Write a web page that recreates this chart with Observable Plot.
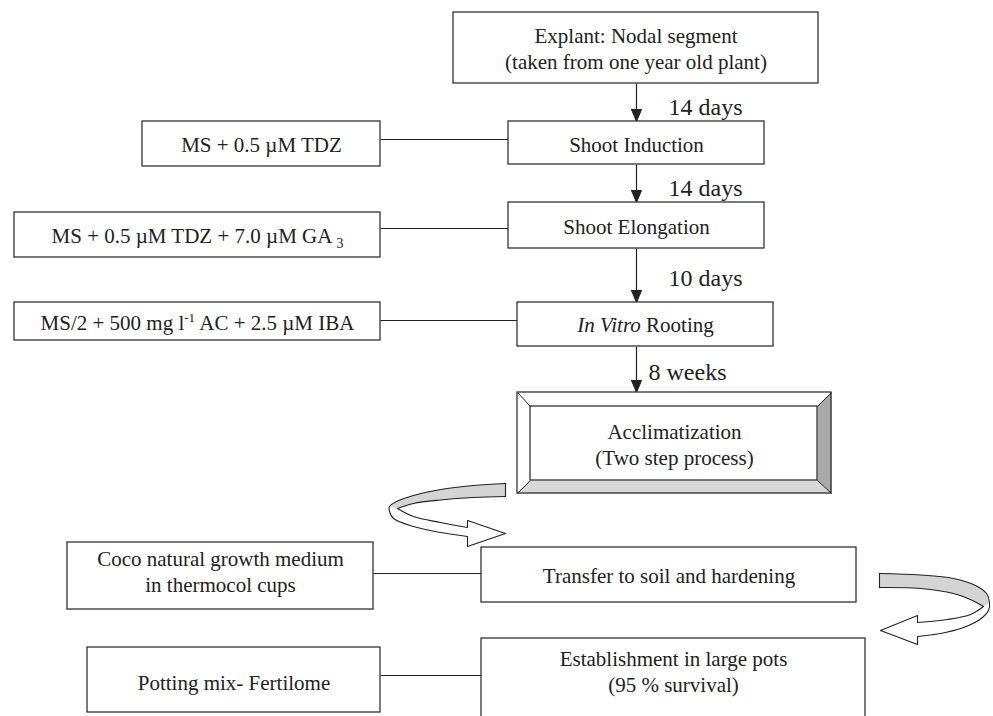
<!DOCTYPE html>
<html>
<head>
<meta charset="utf-8">
<script src="https://cdn.jsdelivr.net/npm/d3@7"></script>
<script src="https://cdn.jsdelivr.net/npm/@observablehq/plot@0.6"></script>
<style>
  html, body { margin: 0; padding: 0; background: white; overflow: hidden; }
</style>
</head>
<body>
<div id="chart"></div>
<script>
// ---- content (text) ----
const stages = [
  "Explant: Nodal segment\n(taken from one year old plant)",
  "Shoot Induction",
  "Shoot Elongation",
  "In Vitro Rooting",
  "Acclimatization\n(Two step process)",
  "Transfer to soil and hardening",
  "Establishment in large pots\n(95 % survival)"
];
const media = [
  "MS + 0.5 µM TDZ",
  "MS + 0.5 µM TDZ + 7.0 µM GA 3",
  "MS/2 + 500 mg l-1 AC + 2.5 µM IBA",
  "Coco natural growth medium\nin thermocol cups",
  "Potting mix- Fertilome"
];
const durations = ["14 days", "14 days", "10 days", "8 weeks"];

// ---- layout (pixel positions of the diagram) ----
const stageBoxes = [[453, 818, 12, 83], [508, 764, 121, 164], [508, 764, 202, 248], [517, 773, 302, 346], [517, 831, 392, 493], [481, 856, 547, 602], [481, 865, 638, 730]];
const stageTextY = [47.5, 143, 225, 323, 443.5, 574, 670.5];
const mediaBoxes = [[142, 380, 121, 166], [14, 380, 212, 257], [14, 380, 302, 340], [67, 373, 542, 609], [87, 380, 647, 712]];
const mediaTextY = [143, 234, 321, 570.5, 681];
const connectors = [[380, 508, 139], [380, 508, 228], [380, 517, 320], [373, 481, 573], [380, 481, 675]];
const arrowX = 636;
const arrowsY = [[83, 121], [164, 202], [248, 302], [346, 392]];
const durationX = [668, 668, 668, 648];
const durationY = [107, 188, 278, 372];
const bevelInner = [530, 817, 406, 480];

// curved ribbon arrows
const outerA = [[505,483],[473,485],[440,489],[413,495],[396,501],[389,506],[389,511],[393,518],[413,526],[440,532],[467,536]];
const innerGrayA = [[505,496],[473,497],[440,499.5],[413,503],[397,508]];
const innerWhiteA = [[397,508],[413,516],[440,522],[467,527]];
const headA = [[467,527],[467,520],[505,533],[467,546],[467,536]];
const outerB = [[879,573],[920,574.5],[953,578],[975,585],[986,593],[989,602],[988,610],[982,617],[968,625],[945,632],[917,636]];
const innerGrayB = [[879,587],[920,588],[953,593],[972,600],[983,606]];
const innerWhiteB = [[983,606],[970,614],[947,619],[917,622]];
const headB = [[917,622],[917,615],[880,630],[917,644],[917,636]];

const INK = "#222";
const FONT = "Liberation Serif, Times New Roman, serif";
const SW = 1.2;

// derived helpers
const grayA = outerA.slice(0, 6).concat(innerGrayA.slice().reverse());
const grayB = outerB.slice(0, 6).concat(innerGrayB.slice().reverse());
const whiteA = outerA.slice(5).concat(innerWhiteA.slice().reverse());
const whiteB = outerB.slice(5).concat(innerWhiteB.slice().reverse());
const headPts = arrowsY.flatMap(([y1, y2], i) => [[arrowX - 5, y2 - 12], [arrowX + 5, y2 - 12], [arrowX, y2], [arrowX - 5, y2 - 12]].map(p => ({id: i, x: p[0], y: p[1]})));
const [ox1, ox2, oy1, oy2] = stageBoxes[4];
const [ix1, ix2, iy1, iy2] = bevelInner;
const bevelRight = [[ox2, oy1], [ix2, iy1], [ix2, iy2], [ox2, oy2]];
const bevelBottom = [[ox1, oy2], [ix1, iy2], [ix2, iy2], [ox2, oy2]];
const bevelDiag = [[ox1, oy1, ix1, iy1], [ox2, oy1, ix2, iy1], [ox1, oy2, ix1, iy2], [ox2, oy2, ix2, iy2]];
const plainBoxes = stageBoxes.filter((d, i) => i !== 4);

const px = d => d[0], py = d => d[1];
const poly = (pts, opts) => Plot.line(pts, {x: px, y: py, ...opts});
const box = (data, opts) => Plot.rect(data, {x1: d => d[0], x2: d => d[1], y1: d => d[2], y2: d => d[3], stroke: INK, strokeWidth: SW, ...opts});

const svg = Plot.plot({
  width: 993,
  height: 716,
  margin: 0,
  x: {domain: [0, 993], range: [0, 993], axis: null},
  y: {domain: [0, 716], range: [0, 716], axis: null},
  style: {background: "white", fontFamily: FONT, overflow: "hidden"},
  marks: [
    // connectors
    Plot.link(connectors, {x1: d => d[0], x2: d => d[1], y1: d => d[2], y2: d => d[2], stroke: INK, strokeWidth: SW}),
    // vertical arrows
    Plot.link(arrowsY, {x1: arrowX, x2: arrowX, y1: d => d[0], y2: d => d[1] - 10, stroke: INK, strokeWidth: SW}),
    Plot.line(headPts, {x: "x", y: "y", z: "id", fill: INK, stroke: INK, strokeWidth: 1}),
    // boxes
    box(plainBoxes, {fill: "white"}),
    box(mediaBoxes, {fill: "white"}),
    // bevelled acclimatization box
    box([stageBoxes[4]], {fill: "white", stroke: "none"}),
    poly(bevelRight, {fill: "#a9a9a9", stroke: "none"}),
    poly(bevelBottom, {fill: "#d8d8d8", stroke: "none"}),
    box([stageBoxes[4]], {fill: "none"}),
    box([bevelInner], {fill: "white"}),
    Plot.link(bevelDiag, {x1: d => d[0], y1: d => d[1], x2: d => d[2], y2: d => d[3], stroke: INK, strokeWidth: 1}),
    // ribbon arrow A
    poly(grayA, {fill: "#d4d4d4", stroke: "none", curve: "catmull-rom"}),
    poly(whiteA, {fill: "white", stroke: "none", curve: "catmull-rom"}),
    poly(headA, {fill: "white", stroke: "none"}),
    poly(outerA, {stroke: INK, strokeWidth: 1.1, curve: "catmull-rom"}),
    poly(innerGrayA, {stroke: INK, strokeWidth: 1.1, curve: "catmull-rom"}),
    poly(innerWhiteA, {stroke: INK, strokeWidth: 1.1, curve: "catmull-rom"}),
    poly(headA, {stroke: INK, strokeWidth: 1.1}),
    poly([outerA[0], innerGrayA[0]], {stroke: INK, strokeWidth: 1.1}),
    // ribbon arrow B
    poly(grayB, {fill: "#d4d4d4", stroke: "none", curve: "catmull-rom"}),
    poly(whiteB, {fill: "white", stroke: "none", curve: "catmull-rom"}),
    poly(headB, {fill: "white", stroke: "none"}),
    poly(outerB, {stroke: INK, strokeWidth: 1.1, curve: "catmull-rom"}),
    poly(innerGrayB, {stroke: INK, strokeWidth: 1.1, curve: "catmull-rom"}),
    poly(innerWhiteB, {stroke: INK, strokeWidth: 1.1, curve: "catmull-rom"}),
    poly(headB, {stroke: INK, strokeWidth: 1.1}),
    poly([outerB[0], innerGrayB[0]], {stroke: INK, strokeWidth: 1.1}),
    // text
    Plot.text(stages, {x: (d, i) => (stageBoxes[i][0] + stageBoxes[i][1]) / 2, y: (d, i) => stageTextY[i], text: d => d, fontSize: 21, lineHeight: 1.2, fill: INK, fontFamily: FONT}),
    Plot.text(media, {x: (d, i) => (mediaBoxes[i][0] + mediaBoxes[i][1]) / 2, y: (d, i) => mediaTextY[i], text: d => d, fontSize: 21, lineHeight: 1.2, fill: INK, fontFamily: FONT}),
    Plot.text(durations, {x: (d, i) => durationX[i], y: (d, i) => durationY[i], text: d => d, fontSize: 24, textAnchor: "start", fill: INK, fontFamily: FONT})
  ]
});

// rich text: italics, sub- and superscripts
d3.select(svg).selectAll("text").each(function () {
  const t = this.textContent;
  const sel = d3.select(this);
  if (t === "In Vitro Rooting") {
    sel.text(null);
    sel.append("tspan").attr("font-style", "italic").text("In Vitro");
    sel.append("tspan").text(" Rooting");
  } else if (t.endsWith("GA 3")) {
    sel.text(null);
    sel.append("tspan").text(t.slice(0, -1));
    sel.append("tspan").attr("font-size", "14px").attr("dy", "5").text("3");
  } else if (t.includes(" l-1 ")) {
    const [a, b] = t.split(" l-1 ");
    sel.text(null);
    sel.append("tspan").text(a + " l");
    sel.append("tspan").attr("font-size", "13px").attr("dy", "-8").text("-1");
    sel.append("tspan").attr("dy", "8").text(" " + b);
  }
});

document.getElementById("chart").appendChild(svg);
</script>
</body>
</html>
